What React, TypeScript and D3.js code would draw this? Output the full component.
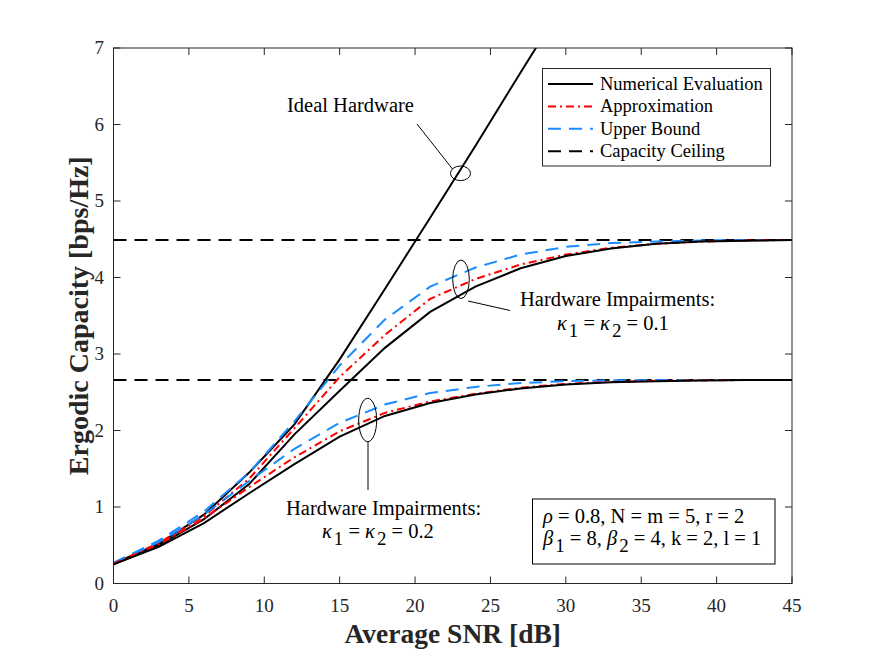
import React from "react";
import * as d3 from "d3";

const snr = [0, 3, 6, 9, 12, 15, 18, 21, 24, 27, 30, 33, 36, 39, 42, 45];
const ideal = [0.26, 0.52, 0.9, 1.45, 2.08, 2.93, 3.85, 4.78, 5.72, 6.68, 7.63, 8.6, 9.6, 10.6, 11.6, 12.6];
const k1Num = [0.25, 0.5, 0.84, 1.3, 1.95, 2.52, 3.08, 3.55, 3.88, 4.12, 4.28, 4.38, 4.44, 4.47, 4.48, 4.49];
const k1App = [0.26, 0.53, 0.88, 1.37, 2.03, 2.7, 3.25, 3.72, 3.98, 4.17, 4.3, 4.39, 4.44, 4.47, 4.485, 4.49];
const k1Ub = [0.27, 0.56, 0.94, 1.45, 2.12, 2.85, 3.45, 3.88, 4.13, 4.3, 4.4, 4.45, 4.47, 4.485, 4.49, 4.49];
const k2Num = [0.25, 0.48, 0.79, 1.18, 1.56, 1.92, 2.19, 2.36, 2.47, 2.55, 2.6, 2.63, 2.645, 2.655, 2.66, 2.66];
const k2App = [0.26, 0.51, 0.85, 1.26, 1.65, 1.99, 2.23, 2.38, 2.48, 2.56, 2.61, 2.635, 2.65, 2.655, 2.66, 2.66];
const k2Ub = [0.27, 0.54, 0.9, 1.34, 1.76, 2.1, 2.34, 2.49, 2.57, 2.62, 2.645, 2.655, 2.66, 2.66, 2.66, 2.66];
const ceilings = [4.49, 2.66];
const xTicks = [0, 5, 10, 15, 20, 25, 30, 35, 40, 45];
const yTicks = [0, 1, 2, 3, 4, 5, 6, 7];
const legendLabels = ["Numerical Evaluation", "Approximation", "Upper Bound", "Capacity Ceiling"];

const L = 113.5, R = 792, T = 48, B = 583.5;
const FONT = "'Liberation Serif', 'Times New Roman', serif";
const AX = "#262626";
const RED = "#ff0000";
const BLUE = "#1a8cff";
const FS = 20.5;

export default function App() {
  const x = d3.scaleLinear().domain([0, 45]).range([L, R]);
  const y = d3.scaleLinear().domain([0, 7]).range([B, T]);
  const line = d3.line<number>().x((_, i) => x(snr[i])).y((v) => y(v));

  const styles: Record<string, any> = {
    num: { stroke: "#000", strokeWidth: 2, fill: "none" },
    app: { stroke: RED, strokeWidth: 2, fill: "none", strokeDasharray: "8,4,2,4" },
    ub: { stroke: BLUE, strokeWidth: 2, fill: "none", strokeDasharray: "13,8" },
    ceil: { stroke: "#000", strokeWidth: 2, fill: "none", strokeDasharray: "13,8" },
  };
  const legendStyles = [styles.num, styles.app, styles.ub, styles.ceil];

  const SUB = 7;
  const Sub = ({ t }: { t: string }) => (
    <tspan dx={2} dy={SUB} fontSize={FS * 0.92}>{t}</tspan>
  );

  return (
    <svg width={875} height={657} style={{ position: "absolute", left: 0, top: 0, background: "#fff" }} fontFamily={FONT}>
      <defs>
        <clipPath id="plotClip">
          <rect x={L} y={T} width={R - L} height={B - T} />
        </clipPath>
      </defs>
      <rect x={0} y={0} width={875} height={657} fill="#fff" />

      <g clipPath="url(#plotClip)">
        {ceilings.map((c, i) => (
          <line key={"c" + i} x1={x(0)} x2={x(45)} y1={y(c)} y2={y(c)} {...styles.ceil} />
        ))}
        <path d={line(ideal) || ""} {...styles.num} />
        <path d={line(k1Ub) || ""} {...styles.ub} />
        <path d={line(k1App) || ""} {...styles.app} />
        <path d={line(k1Num) || ""} {...styles.num} />
        <path d={line(k2Ub) || ""} {...styles.ub} />
        <path d={line(k2App) || ""} {...styles.app} />
        <path d={line(k2Num) || ""} {...styles.num} />
      </g>

      {/* axes box */}
      <rect x={L} y={T} width={R - L} height={B - T} fill="none" stroke={AX} strokeWidth={1} />
      {xTicks.map((t) => (
        <g key={"xt" + t}>
          <line x1={x(t)} x2={x(t)} y1={B} y2={B - 7} stroke={AX} />
          <line x1={x(t)} x2={x(t)} y1={T} y2={T + 7} stroke={AX} />
          <text x={x(t)} y={612} textAnchor="middle" fontSize={19} fill={AX}>{t}</text>
        </g>
      ))}
      {yTicks.map((t) => (
        <g key={"yt" + t}>
          <line x1={L} x2={L + 7} y1={y(t)} y2={y(t)} stroke={AX} />
          <line x1={R} x2={R - 7} y1={y(t)} y2={y(t)} stroke={AX} />
          <text x={104} y={y(t) + 6} textAnchor="end" fontSize={19} fill={AX}>{t}</text>
        </g>
      ))}

      <text x={(L + R) / 2} y={643} textAnchor="middle" fontSize={27.5} fontWeight="bold" fill={AX}>Average SNR [dB]</text>
      <text transform={`translate(88,${(T + B) / 2}) rotate(-90)`} textAnchor="middle" fontSize={28} fontWeight="bold" fill={AX}>Ergodic Capacity [bps/Hz]</text>

      {/* legend */}
      <rect x={542.5} y={68.5} width={228} height={97.5} fill="#fff" stroke={AX} strokeWidth={1} />
      {legendLabels.map((lab, i) => {
        const yy = 84 + i * 22.4;
        return (
          <g key={lab}>
            <line x1={548} x2={593} y1={yy} y2={yy} {...legendStyles[i]} />
            <text x={600} y={yy + 6} fontSize={18.5} fill="#000">{lab}</text>
          </g>
        );
      })}

      {/* Ideal annotation */}
      <text x={287} y={112} fontSize={FS} fill="#000">Ideal Hardware</text>
      <line x1={417} y1={124} x2={452.5} y2={169} stroke="#000" strokeWidth={1} />
      <ellipse cx={460.5} cy={173.3} rx={10} ry={7.3} fill="none" stroke="#000" strokeWidth={1} />

      {/* kappa 0.1 annotation */}
      <ellipse cx={461} cy={279.3} rx={8.3} ry={19.3} fill="none" stroke="#000" strokeWidth={1} />
      <line x1={468} y1={301} x2={510} y2={310.5} stroke="#000" strokeWidth={1} />
      <text x={520} y={306} fontSize={FS} fill="#000">Hardware Impairments:</text>
      <text x={557} y={330} fontSize={FS} fill="#000">
        <tspan fontStyle="italic">κ</tspan>
        <Sub t="1" />
        <tspan dy={-SUB}> = </tspan>
        <tspan fontStyle="italic">κ</tspan>
        <Sub t="2" />
        <tspan dy={-SUB}> = 0.1</tspan>
      </text>

      {/* kappa 0.2 annotation */}
      <ellipse cx={367.7} cy={420} rx={9} ry={21.7} fill="none" stroke="#000" strokeWidth={1} />
      <line x1={368} y1={441.7} x2={368} y2={490} stroke="#000" strokeWidth={1} />
      <text x={286} y={515} fontSize={FS} fill="#000">Hardware Impairments:</text>
      <text x={322} y={538} fontSize={FS} fill="#000">
        <tspan fontStyle="italic">κ</tspan>
        <Sub t="1" />
        <tspan dy={-SUB}> = </tspan>
        <tspan fontStyle="italic">κ</tspan>
        <Sub t="2" />
        <tspan dy={-SUB}> = 0.2</tspan>
      </text>

      {/* parameters box */}
      <rect x={532.5} y={499} width={242.5} height={65} fill="#fff" stroke="#000" strokeWidth={1} />
      <text x={543} y={523} fontSize={FS} fill="#000">
        <tspan fontStyle="italic">ρ</tspan>
        <tspan> = 0.8, N = m = 5, r = 2</tspan>
      </text>
      <text x={543} y={545} fontSize={FS} fill="#000">
        <tspan fontStyle="italic">β</tspan>
        <Sub t="1" />
        <tspan dy={-SUB}> = 8, </tspan>
        <tspan fontStyle="italic">β</tspan>
        <Sub t="2" />
        <tspan dy={-SUB}> = 4, k = 2, l = 1</tspan>
      </text>
    </svg>
  );
}
